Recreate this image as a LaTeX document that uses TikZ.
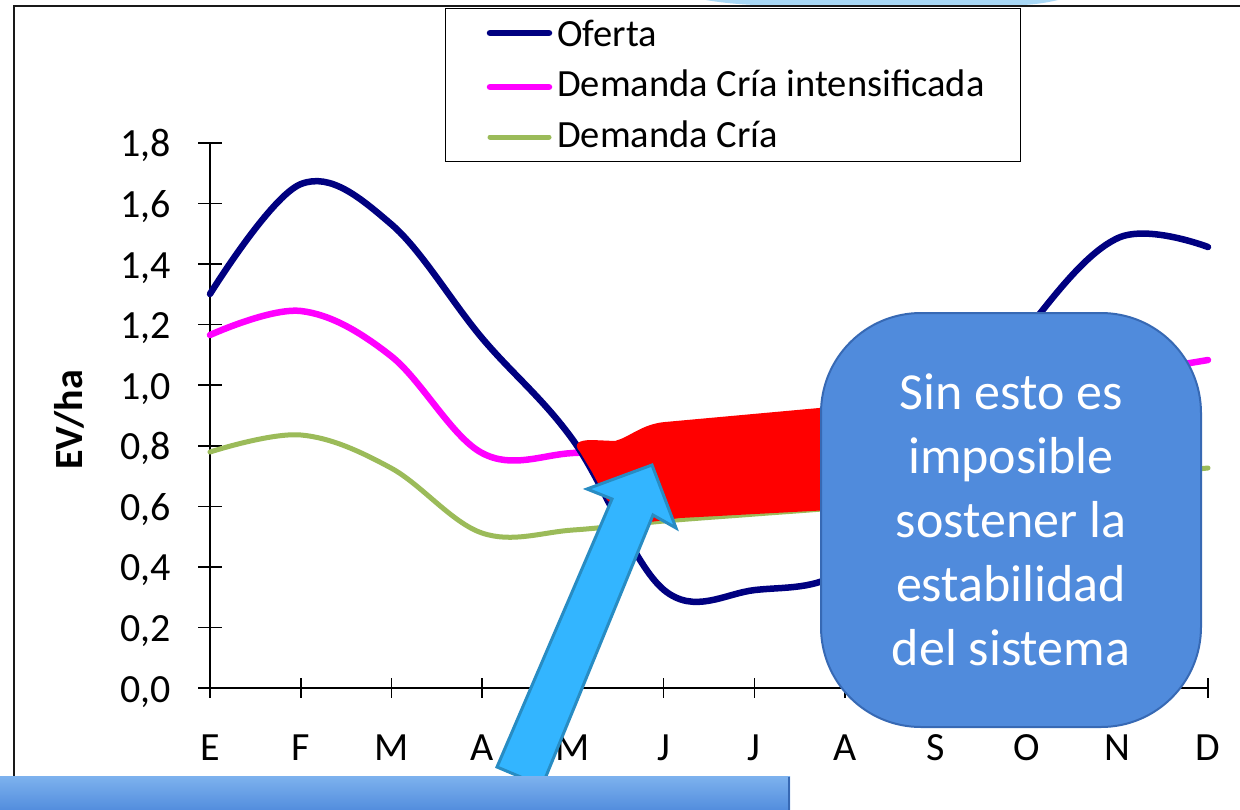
\documentclass[tikz,border=0pt]{standalone}
\usepackage{fontspec}
\setmainfont{Carlito}
\definecolor{navyc}{RGB}{0,0,128}
\definecolor{pinkc}{RGB}{255,0,255}
\definecolor{greenc}{RGB}{155,187,89}
\definecolor{arrowfill}{RGB}{51,181,255}
\definecolor{arrowdraw}{RGB}{40,140,195}
\definecolor{boxblue}{RGB}{80,139,220}
\definecolor{boxedge}{RGB}{55,105,180}
\definecolor{boxlight}{RGB}{125,178,238}
\definecolor{topblue}{RGB}{168,216,246}
\begin{document}
\begin{tikzpicture}[x=1pt,y=-1pt,
  curve/.style={line width=6.5pt,line join=round,line cap=round},
  ticklab/.style={font=\fontsize{40}{48}\selectfont,inner sep=0pt},
  leglab/.style={font=\fontsize{38.5}{44}\selectfont,inner sep=0pt,anchor=base west},
  tickline/.style={line width=1.6pt,black}]
\useasboundingbox (0,0) rectangle (1240,809);
\fill[white] (0,0) rectangle (1240,809);
% light blue shape cut at the top
\fill[topblue] (706,0) .. controls (740,6) and (780,6) .. (820,6) -- (990,6) .. controls (1030,6) and (1045,3) .. (1058,0) -- cycle;
% chart frame
\draw[line width=2.5pt,black!90] (14,780) -- (14,6) -- (1240,6);
% legend
\node[draw,line width=1.3pt,minimum width=575pt,minimum height=153pt,inner sep=0pt,anchor=north west] (legend) at (445,8) {};
\coordinate (l1a) at (490,33); \coordinate (l1b) at (549,33);
\coordinate (l2a) at (490,87); \coordinate (l2b) at (549,87);
\coordinate (l3a) at (490,137); \coordinate (l3b) at (549,137);
\draw[curve,navyc] (l1a) -- (l1b);
\draw[curve,pinkc] (l2a) -- (l2b);
\draw[curve,greenc,line width=5pt] (l3a) -- (l3b);
\node[leglab] (t1) at (557,46) {Oferta};
\node[leglab] (t2) at (557,96) {Demanda Cría intensificada};
\node[leglab] (t3) at (557,147) {Demanda Cría};
% axes
\draw[tickline] (210,143) -- (210,688) -- (1208,688);
\foreach \k/\lab in {0/{0,0},1/{0,2},2/{0,4},3/{0,6},4/{0,8},5/{1,0},6/{1,2},7/{1,4},8/{1,6},9/{1,8}}{
  \draw[tickline] (198,{688-60.556*\k}) -- (222,{688-60.556*\k});
  \node[ticklab,anchor=base east] (y\k) at (171,{702-60.556*\k}) {\lab};
}
\foreach \i/\lab in {0/E,1/F,2/M,3/A,4/M,5/J,6/J,7/A,8/S,9/O,10/N,11/D}{
  \draw[tickline] ({210+90.727*\i},678) -- ({210+90.727*\i},698);
  \node[ticklab,anchor=base] (x\i) at ({210+90.727*\i},760) {\lab};
}
\node[font=\fontsize{40}{48}\selectfont\bfseries,rotate=90,inner sep=0pt] (ylab) at (69,420) {EV/ha};
% curves
\draw[curve,greenc,line width=5pt] plot[smooth,tension=0.6] coordinates {(210,452) (301,435) (391,468) (482,533) (573,530) (664,521) (755,514) (845,507) (936,497) (1027,487) (1118,477) (1208,468)};
\draw[curve,pinkc] plot[smooth,tension=0.6] coordinates {(210,335) (301,311) (391,356) (482,453) (573,453) (664,444) (755,432) (845,420) (936,405) (1027,390) (1118,375) (1208,360)};
\draw[curve,navyc] plot[smooth,tension=0.6] coordinates {(210,294) (301,184) (391,224) (482,338) (573,440) (664,590) (755,590) (845,570) (936,470) (1027,330) (1118,238) (1208,247)};
% red zone
\fill[red] (580,452) .. controls (572,443) and (580,440) .. (592,440) -- (615,441) .. controls (630,437) and (642,424) .. (665,422) -- (830,407) -- (830,510) -- (680,518) -- (650,522) -- (632,521) -- (607,500) -- (592,472) -- cycle;
% arrow
\draw[arrowdraw,fill=arrowfill,line width=3pt,line join=miter]
  (652,465) -- (676,528) -- (653,515) -- (542,786) -- (497,767) -- (612,499) -- (587,489) -- cycle;
% note box
\node[draw=boxedge,line width=2pt,fill=boxblue,rounded corners=100pt,minimum width=380pt,minimum height=414pt,inner sep=0pt,text=white,align=center,font=\fontsize{52}{64}\selectfont] (note) at (1011,520) {Sin esto es\\imposible\\sostener la\\estabilidad\\del sistema};
% bottom box (cut)
\shade[top color=boxlight,bottom color=boxblue] (0,776) rectangle (790,812);
\draw[boxedge,line width=2pt] (789,777) -- (789,812);
\end{tikzpicture}
\end{document}
